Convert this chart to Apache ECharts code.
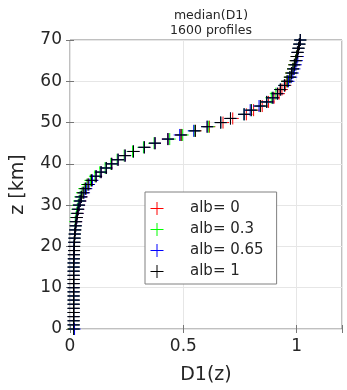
<!DOCTYPE html>
<html>
<head>
<meta charset="utf-8">
<script src="https://cdn.jsdelivr.net/npm/echarts@6/dist/echarts.min.js"></script>
<style>html,body{margin:0;padding:0;background:#fff}#c{width:347px;height:390px}</style>
</head>
<body>
<div id="c"></div>
<script>
// altitude levels z [km]
const zLevels = [0,1,2,3,4,5,6,7,8,9,10,11,12,13,14,15,16,17,18,19,20,21,22,23,24,25,26,27,28,29,30,31,32,33,34,35,36,37,38,39,40,41,42,43,44,45,46,47,48,49,50,51,52,53,54,55,56,57,58,59,60,61,62,63,64,65,66,67,68,69,70];
const seriesNames = ['alb= 0', 'alb= 0.3', 'alb= 0.65', 'alb= 1'];
const seriesColors = ['#ff0000', '#00ff00', '#0000ff', '#000000'];
const xTicks = ['0', '0.5', '1'];
const alb0 = [
0.016,0.016,0.016,0.016,0.016,0.016,0.016,0.016,0.016,0.016,
0.016,0.016,0.016,0.016,0.016,0.016,0.016,0.017,0.017,0.018,
0.018,0.019,0.020,0.021,0.023,0.025,0.027,0.030,0.033,0.036,
0.040,0.045,0.050,0.058,0.068,0.080,0.095,0.115,0.137,0.160,
0.184,0.212,0.243,0.280,0.328,0.375,0.432,0.490,0.553,0.615,
0.675,0.718,0.778,0.810,0.848,0.876,0.900,0.922,0.935,0.950,
0.958,0.970,0.977,0.984,0.990,0.996,1.000,1.004,1.008,1.012,1.016];
const alb03 = [
0.016,0.016,0.016,0.016,0.016,0.016,0.016,0.016,0.016,0.016,
0.016,0.016,0.016,0.016,0.016,0.016,0.016,0.017,0.017,0.018,
0.018,0.019,0.020,0.021,0.023,0.025,0.023,0.026,0.029,0.032,
0.036,0.040,0.045,0.053,0.063,0.075,0.090,0.110,0.132,0.155,
0.180,0.208,0.239,0.276,0.324,0.371,0.440,0.497,0.548,0.612,
0.665,0.708,0.768,0.800,0.840,0.868,0.888,0.908,0.928,0.946,
0.958,0.970,0.977,0.984,0.990,0.996,1.000,1.004,1.008,1.012,1.016];
const alb065 = [
0.020,0.016,0.016,0.016,0.016,0.016,0.016,0.016,0.016,0.016,
0.016,0.016,0.016,0.016,0.016,0.016,0.016,0.017,0.017,0.018,
0.018,0.019,0.020,0.021,0.023,0.025,0.027,0.030,0.033,0.036,
0.040,0.045,0.050,0.062,0.072,0.084,0.099,0.115,0.137,0.160,
0.184,0.212,0.243,0.280,0.328,0.375,0.432,0.484,0.546,0.605,
0.665,0.708,0.768,0.795,0.834,0.868,0.895,0.915,0.928,0.946,
0.964,0.976,0.983,0.990,0.996,1.001,1.005,1.004,1.008,1.012,1.016];
const alb1 = [
0.016,0.016,0.016,0.016,0.016,0.016,0.016,0.016,0.016,0.016,
0.016,0.016,0.016,0.016,0.016,0.016,0.016,0.017,0.017,0.018,
0.018,0.019,0.020,0.021,0.023,0.025,0.027,0.030,0.033,0.036,
0.040,0.045,0.050,0.058,0.068,0.080,0.095,0.115,0.137,0.160,
0.184,0.212,0.243,0.280,0.328,0.375,0.432,0.490,0.553,0.605,
0.665,0.708,0.768,0.800,0.840,0.868,0.895,0.915,0.928,0.946,
0.958,0.970,0.977,0.984,0.990,0.996,1.000,1.004,1.008,1.012,1.016];
const allValues = [alb0, alb03, alb065, alb1];

const FONT = 'DejaVu Sans';
const plusPath = 'path://M0,6L12,6M6,0L6,12';
const chart = echarts.init(document.getElementById('c'), null, {renderer: 'canvas'});

const series = allValues.map((vals, i) => ({
  name: seriesNames[i],
  type: 'scatter',
  symbol: plusPath,
  symbolSize: 12,
  symbolKeepAspect: true,
  itemStyle: {color: seriesColors[i], borderColor: seriesColors[i], borderWidth: 1, opacity: 1},
  emphasis: {disabled: true},
  animation: false,
  data: vals.map((v, k) => [v, zLevels[k]])
}));

const tickStyle = {show: true, inside: true, length: 4, lineStyle: {color: '#777', width: 1}};
chart.setOption({
  animation: false,
  title: {
    text: 'median(D1)\n1600 profiles',
    left: 206, top: 3, textAlign: 'center',
    textStyle: {fontFamily: FONT, fontSize: 12.5, fontWeight: 'normal', color: '#262626', lineHeight: 15}
  },
  grid: {left: 70, right: 5, top: 40, bottom: 59, show: true, borderColor: '#808080', borderWidth: 1, backgroundColor: '#fff'},
  legend: {
    left: 145, top: 192, orient: 'vertical',
    padding: [9, 13, 5, 5],
    itemWidth: 56, itemHeight: 13, itemGap: 6,
    backgroundColor: '#fff', borderColor: '#808080', borderWidth: 1,
    textStyle: {fontFamily: FONT, fontSize: 15, color: '#262626'},
    data: seriesNames.map((n, i) => ({name: n, icon: plusPath, itemStyle: {color: seriesColors[i], borderColor: seriesColors[i], borderWidth: 1}}))
  },
  xAxis: [{
    type: 'value', min: 0, max: 1.2, interval: 0.5,
    name: 'D1(z)', nameLocation: 'middle', nameGap: 37,
    nameTextStyle: {fontFamily: FONT, fontSize: 19, color: '#262626'},
    axisLine: {show: false}, axisTick: tickStyle,
    axisLabel: {fontFamily: FONT, fontSize: 17, color: '#262626', margin: 9,
      formatter: v => { const i = [0, 0.5, 1].indexOf(Math.round(v * 10) / 10); return i >= 0 ? xTicks[i] : ''; }},
    splitLine: {show: true, lineStyle: {color: '#e6e6e6', width: 1}}
  }, {
    type: 'value', min: 0, max: 1.2, interval: 0.5, position: 'top',
    axisLine: {show: false}, axisTick: tickStyle, axisLabel: {show: false}, splitLine: {show: false}
  }],
  yAxis: [{
    type: 'value', min: 0, max: 70, interval: 10,
    name: 'z [km]', nameLocation: 'middle', nameGap: 42, nameRotate: 90,
    nameTextStyle: {fontFamily: FONT, fontSize: 19, color: '#262626'},
    axisLine: {show: false}, axisTick: tickStyle,
    axisLabel: {fontFamily: FONT, fontSize: 17, color: '#262626', margin: 8},
    splitLine: {show: true, lineStyle: {color: '#e6e6e6', width: 1}}
  }, {
    type: 'value', min: 0, max: 70, interval: 10, position: 'right',
    axisLine: {show: false}, axisTick: tickStyle, axisLabel: {show: false}, splitLine: {show: false}
  }],
  series: series
});
</script>
</body>
</html>
